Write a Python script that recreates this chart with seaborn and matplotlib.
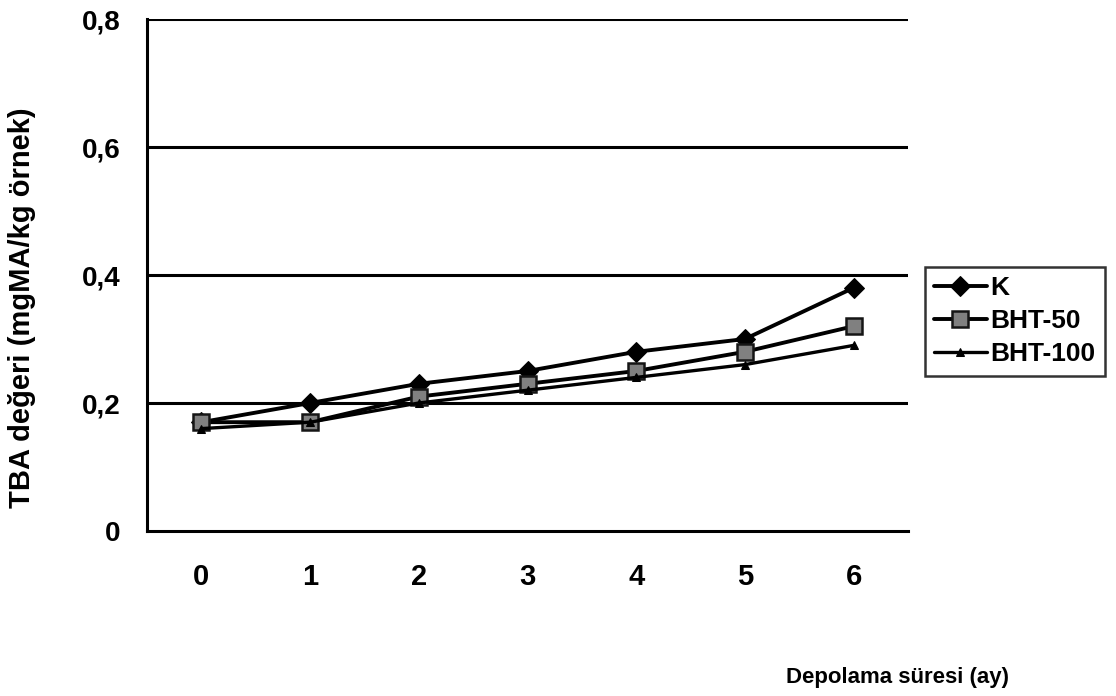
import numpy as np
import pandas as pd
import matplotlib
matplotlib.use("Agg")
import matplotlib.pyplot as plt
import seaborn as sns

months = [0, 1, 2, 3, 4, 5, 6]
k_vals = [0.17, 0.20, 0.23, 0.25, 0.28, 0.30, 0.38]
bht50_vals = [0.17, 0.17, 0.21, 0.23, 0.25, 0.28, 0.32]
bht100_vals = [0.16, 0.17, 0.20, 0.22, 0.24, 0.26, 0.29]
series_names = ["K", "BHT-50", "BHT-100"]
y_ticks = [0, 0.2, 0.4, 0.6, 0.8]
y_tick_labels = ["0", "0,2", "0,4", "0,6", "0,8"]

df = pd.DataFrame({
    "ay": months * 3,
    "TBA": k_vals + bht50_vals + bht100_vals,
    "seri": [series_names[0]] * 7 + [series_names[1]] * 7 + [series_names[2]] * 7,
})

sns.set_style("white")
plt.rcParams["font.family"] = ["Liberation Sans", "DejaVu Sans"]
plt.rcParams["font.weight"] = "bold"
plt.rcParams["text.color"] = "black"
plt.rcParams["axes.labelcolor"] = "black"
plt.rcParams["xtick.color"] = "black"
plt.rcParams["ytick.color"] = "black"

fig = plt.figure(figsize=(11.16, 6.96), dpi=100)
ax = fig.add_axes([147 / 1116, 1 - 531 / 696, (908 - 147) / 1116, (531 - 19) / 696])

styles = {
    "K": dict(marker="D", markersize=10, markerfacecolor="black", markeredgecolor="black", linewidth=2.8),
    "BHT-50": dict(marker="s", markersize=11, markerfacecolor="#808080", markeredgecolor="#151515",
                   markeredgewidth=1.8, linewidth=2.8),
    "BHT-100": dict(marker="^", markersize=6, markerfacecolor="black", markeredgecolor="black", linewidth=2.4),
}

for name in series_names:
    sub = df[df["seri"] == name]
    sns.lineplot(data=sub, x="ay", y="TBA", ax=ax, color="black", label=name, **styles[name])

ax.set_xlim(-0.5, 6.5)
ax.set_ylim(0, 0.8)
ax.set_yticks(y_ticks)
ax.set_yticklabels(y_tick_labels, fontsize=20, fontweight="bold")
ax.set_xticks(months)
ax.set_xticklabels([str(m) for m in months], fontsize=21, fontweight="bold")
ax.set_xticks(np.arange(-0.5, 7, 1), minor=True)
ax.tick_params(axis="x", which="major", length=0, pad=23)
ax.tick_params(axis="x", which="minor", length=7, width=2, direction="out", color="black")
ax.tick_params(axis="y", which="major", length=6, width=2, direction="out", color="black", pad=13)

for y in y_ticks[1:]:
    ax.axhline(y, color="black", linewidth=2.2, zorder=0.5)

for s in ["top", "right"]:
    ax.spines[s].set_visible(False)
for s in ["left", "bottom"]:
    ax.spines[s].set_color("black")
    ax.spines[s].set_linewidth(2.2)

ax.set_xlabel("")
ax.set_ylabel("")
fig.text(22 / 1116, 1 - 308 / 696, "TBA değeri (mgMA/kg örnek)", rotation=90,
         ha="center", va="center", fontsize=21, fontweight="bold")
fig.text(898 / 1116, 1 - 678 / 696, "Depolama süresi (ay)",
         ha="center", va="center", fontsize=16, fontweight="bold")

leg = ax.legend(loc="center left", bbox_to_anchor=(1.022, 0.41), frameon=True, fancybox=False,
                prop={"size": 19, "weight": "bold"}, handlelength=2.0, handletextpad=0.15,
                borderpad=0.35, labelspacing=0.35, borderaxespad=0)
leg.get_frame().set_edgecolor("black")
leg.get_frame().set_linewidth(1.8)

fig.savefig("out.png", dpi=100)
